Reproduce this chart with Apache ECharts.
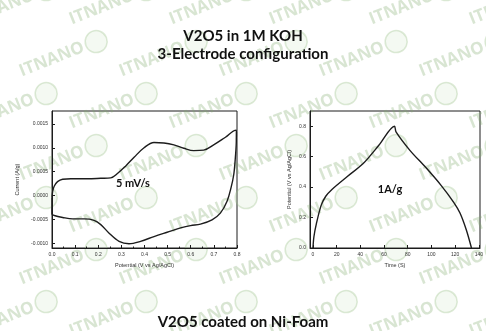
<!DOCTYPE html>
<html>
<head>
<meta charset="utf-8">
<script src="https://cdn.jsdelivr.net/npm/echarts@6/dist/echarts.min.js"></script>
<style>
  html, body { margin: 0; padding: 0; background: #fff; }
  #chart { width: 486px; height: 331px; }
</style>
</head>
<body>
<div id="chart"></div>
<script>
// Cyclic voltammetry loop at 5 mV/s: potential (V vs Ag/AgCl) and current (A/g)
const cvPotential = [
  0.000, 0.003, 0.010, 0.024, 0.046, 0.082, 0.154, 0.211, 0.254, 0.283, 0.319, 0.355,
  0.398, 0.441, 0.484, 0.527, 0.570, 0.613, 0.656, 0.699, 0.750, 0.797, 0.800,
  0.797, 0.793, 0.786, 0.774, 0.757, 0.728, 0.692, 0.642, 0.599, 0.556, 0.498,
  0.441, 0.383, 0.333, 0.290, 0.247, 0.211, 0.182, 0.139, 0.089, 0.046, 0.010, 0.000, 0.000
];
const cvCurrent = [
  -0.00005, 0.00009, 0.00020, 0.00029, 0.00034, 0.00035, 0.00035, 0.00036, 0.00037, 0.00046, 0.00062, 0.00080,
  0.00100, 0.00111, 0.00110, 0.00106, 0.00099, 0.00094, 0.00095, 0.00106, 0.00122, 0.00137, 0.00137,
  0.00115, 0.00080, 0.00044, 0.00016, -0.00012, -0.00037, -0.00051, -0.00060, -0.00063, -0.00068, -0.00077,
  -0.00086, -0.00096, -0.00101, -0.00096, -0.00079, -0.00061, -0.00052, -0.00049, -0.00049, -0.00046, -0.00042, -0.00039, -0.00005
];
const cvTicksY = [-0.0010, -0.0005, 0.0000, 0.0005, 0.0010, 0.0015];

// Galvanostatic charge/discharge at 1 A/g: time (s) and potential (V vs Ag/AgCl)
const gcdTime = [
  0, 0.8, 2.9, 6.9, 10.8, 16, 29, 42.4, 55.6, 68.8, 70.1,
  82, 95.1, 108.3, 118.8, 124.1, 129.4, 133.8
];
const gcdPotential = [
  0, 0.074, 0.16, 0.28, 0.34, 0.385, 0.47, 0.555, 0.675, 0.80, 0.763,
  0.64, 0.53, 0.41, 0.30, 0.23, 0.12, 0
];
const gcdTicksX = [0, 20, 40, 60, 80, 100, 120, 140];
const gcdTicksY = [0.0, 0.2, 0.4, 0.6, 0.8];

const titleTop = 'V2O5 in 1M KOH';
const titleSub = '3-Electrode configuration';
const titleBottom = 'V2O5 coated on Ni-Foam';
const cvLabel = '5 mV/s';
const gcdLabel = '1A/g';

const chart = echarts.init(document.getElementById('chart'), null, { renderer: 'canvas' });

const ink = '#1c1c1c';
const tickFont = { fontSize: 5, color: '#333', fontFamily: 'Liberation Sans' };
const nameFont = { fontSize: 5.5, color: '#333', fontFamily: 'Liberation Sans' };

function boxAxis(extra) {
  return Object.assign({
    type: 'value',
    axisLine: { show: true, onZero: false, lineStyle: { color: ink, width: 1 } },
    axisTick: { show: true, inside: true, length: 3, lineStyle: { color: ink } },
    minorTick: { show: true, splitNumber: 2, length: 1.5, lineStyle: { color: ink } },
    splitLine: { show: false },
    axisLabel: Object.assign({ margin: 4 }, tickFont),
    nameTextStyle: nameFont,
    nameLocation: 'middle'
  }, extra);
}

// Faint repeating brand stamp in the background
const stamps = [];
for (let r = 0; r < 7; r++) {
  for (let c = 0; c < 6; c++) {
    const x = -30 + c * 100 + (r % 2) * 50;
    const y = 20 + r * 52;
    stamps.push({
      type: 'group', x: x, y: y, rotation: 0.38, silent: true, z: -10,
      children: [
        { type: 'text', style: { text: 'ITNANO', x: 0, y: 0, fill: 'rgba(125,170,105,0.3)',
            font: 'bold 17px "Open Sans"', textVerticalAlign: 'middle' } },
        { type: 'circle', shape: { cx: 82, cy: 0, r: 11 },
          style: { fill: 'rgba(200,225,190,0.2)', stroke: 'rgba(150,190,130,0.32)', lineWidth: 1.5 } }
      ]
    });
  }
}

const option = {
  backgroundColor: '#ffffff',
  animation: false,
  graphic: stamps.concat([
    { type: 'text', left: 'center', top: 29, z: 10,
      style: { text: titleTop, fill: '#111', font: 'bold 15px Lato', textAlign: 'center' } },
    { type: 'text', left: 'center', top: 47, z: 10,
      style: { text: titleSub, fill: '#111', font: 'bold 15px Lato', textAlign: 'center' } },
    { type: 'text', left: 'center', top: 315, z: 10,
      style: { text: titleBottom, fill: '#111', font: 'bold 15px Lato', textAlign: 'center' } }
  ]),
  grid: [
    { left: 52, right: 249, top: 111, bottom: 83, show: true, borderColor: ink, borderWidth: 1, backgroundColor: 'transparent' },
    { left: 310, right: -5, top: 111, bottom: 83, show: true, borderColor: ink, borderWidth: 1, backgroundColor: 'transparent' }
  ],
  xAxis: [
    boxAxis({ gridIndex: 0, min: 0, max: 0.8, interval: 0.1, name: 'Potential (V vs Ag/AgCl)', nameGap: 14,
      axisLabel: Object.assign({ margin: 4, formatter: v => v.toFixed(1) }, tickFont) }),
    boxAxis({ gridIndex: 1, min: -2.5, max: 141, name: 'Time (S)', nameGap: 14,
      axisLabel: Object.assign({ margin: 4, customValues: gcdTicksX }, tickFont),
      axisTick: { show: true, inside: true, length: 3, customValues: gcdTicksX, lineStyle: { color: ink } },
      minorTick: { show: false } })
  ],
  yAxis: [
    boxAxis({ gridIndex: 0, min: -0.0011, max: 0.00177, name: 'Current (A/g)', nameGap: 32,
      axisLabel: Object.assign({ margin: 4, customValues: cvTicksY, formatter: v => v.toFixed(4) }, tickFont),
      axisTick: { show: true, inside: true, length: 3, customValues: cvTicksY, lineStyle: { color: ink } },
      minorTick: { show: false } }),
    boxAxis({ gridIndex: 1, min: 0, max: 0.9, name: 'Potential (V vs Ag/AgCl)', nameGap: 18,
      axisLabel: Object.assign({ margin: 4, customValues: gcdTicksY, formatter: v => v.toFixed(1) }, tickFont),
      axisTick: { show: true, inside: true, length: 3, customValues: gcdTicksY, lineStyle: { color: ink } },
      minorTick: { show: false } })
  ],
  series: [
    {
      type: 'line', xAxisIndex: 0, yAxisIndex: 0, smooth: 0.35, symbol: 'none',
      lineStyle: { color: ink, width: 1.4 },
      data: cvPotential.map((v, i) => [v, cvCurrent[i]])
    },
    {
      type: 'line', xAxisIndex: 1, yAxisIndex: 1, smooth: 0.3, symbol: 'none',
      lineStyle: { color: ink, width: 1.4 },
      data: gcdTime.map((t, i) => [t, gcdPotential[i]])
    }
  ]
};

// In-plot annotations
option.graphic.push(
  { type: 'text', x: 133, y: 183, z: 10,
    style: { text: cvLabel, fill: '#111', font: 'bold 11px Lato', textAlign: 'center', textVerticalAlign: 'middle' } },
  { type: 'text', x: 390, y: 189, z: 10,
    style: { text: gcdLabel, fill: '#111', font: 'bold 11px Lato', textAlign: 'center', textVerticalAlign: 'middle' } }
);

chart.setOption(option);
</script>
</body>
</html>
